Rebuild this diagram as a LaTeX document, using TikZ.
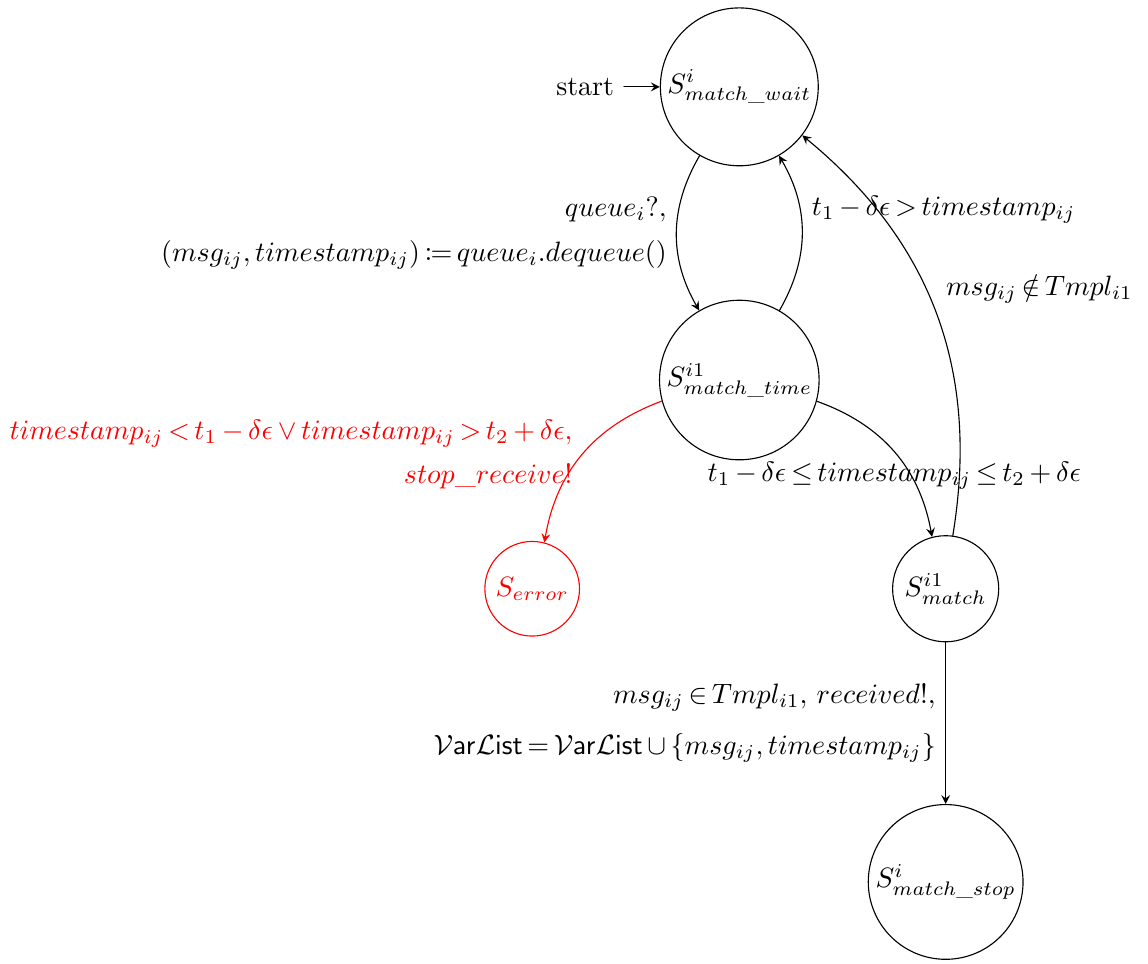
\documentclass[tikz,border=0pt]{standalone}
\usepackage{mathtools,amssymb}
\usepackage{tikz}
\usetikzlibrary{positioning}

\begin{document}
\thickmuskip=3mu plus 2mu
\medmuskip=3mu plus 1mu minus 2mu
\begin{tikzpicture}[line cap=round,line join=round,
	stnode/.style={circle,draw,inner sep=2.5pt},
	trans/.style={-stealth}]
\useasboundingbox (0,0) rectangle (14.41,-12.09);
\node[stnode,inner sep=1.5pt] (wait) at (9.28,-1.09) {$S^i_{match\_wait}$};
\node[stnode,inner sep=1.5pt] (time) at (9.28,-4.77) {$S^{i1}_{match\_time}$};
\node[stnode,red] (error) at (6.68,-7.39) {$S_{error}$};
\node[stnode] (match) at (11.87,-7.39) {$S^{i1}_{match}$};
\node[stnode,inner sep=1.5pt] (stop) at (11.87,-11.07) {$S^i_{match\_stop}$};
\node[left=0.45cm of wait] (start) {start};
\draw[trans] (start) -- (wait);
\draw[trans] (wait) to[bend right] node[left,align=right] {$queue_i?,$\\[4pt] $(msg_{ij}, timestamp_{ij}) \coloneqq queue_i.dequeue()$} (time);
\draw[trans] (time) to[bend right] node[above right] {$t_1 - \delta\epsilon > timestamp_{ij}$} (wait);
\draw[trans] (match) to[bend right] node[above right] {$msg_{ij} \notin Tmpl_{i1}$} (wait);
\draw[trans,red] (time) to[bend right] node[left,align=right] {$timestamp_{ij} < t_1 - \delta\epsilon \vee timestamp_{ij} > t_2 + \delta\epsilon,$\\[4pt] $stop\_receive!$} (error);
\draw[trans] (time) to[bend left] node[below] {$t_1 - \delta\epsilon \leq timestamp_{ij} \leq t_2 + \delta\epsilon$} (match);
\draw[trans] (match) -- node[left,align=right] {$msg_{ij} \in Tmpl_{i1},\, received!,$\\[6pt] $\mathcal{V}\mathsf{ar}\mathcal{L}\mathsf{ist} = \mathcal{V}\mathsf{ar}\mathcal{L}\mathsf{ist} \cup \{msg_{ij}, timestamp_{ij}\}$} (stop);
\end{tikzpicture}
\end{document}
